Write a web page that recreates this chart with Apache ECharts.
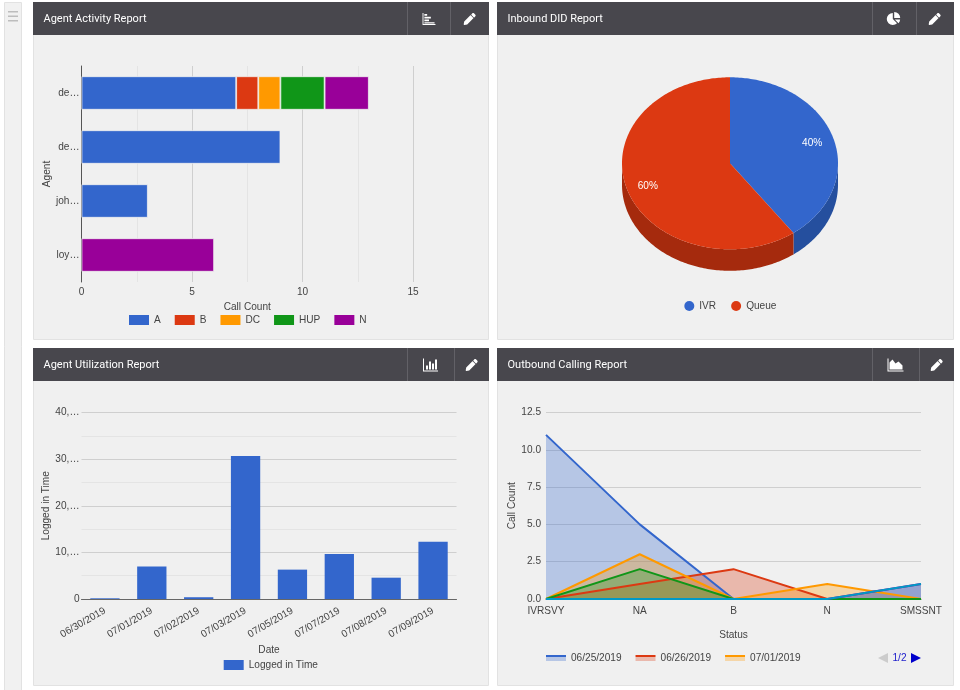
<!DOCTYPE html>
<html>
<head>
<meta charset="utf-8">
<title>Call Center Dashboard</title>
<style>
  html, body { margin: 0; padding: 0; background: #fff; }
  #dash { width: 960px; height: 690px; }
</style>
<script src="https://cdn.jsdelivr.net/npm/echarts@6/dist/echarts.min.js"></script>
</head>
<body>
<div id="dash"></div>
<script>
// Agent Activity Report
const agentLabels = ['de…', 'de…', 'joh…', 'loy…'];
const statusA = [7, 9, 3, null];
const statusB = [1, null, null, null];
const statusDC = [1, null, null, null];
const statusHUP = [2, null, null, null];
const statusN = [2, null, null, 6];

// Inbound DID Report
const didNames = ['IVR', 'Queue'];
const didValues = [2, 3];

// Agent Utilization Report
const utilDates = ['06/30/2019', '07/01/2019', '07/02/2019', '07/03/2019', '07/05/2019', '07/07/2019', '07/08/2019', '07/09/2019'];
const loggedInTime = [150, 6950, 380, 30650, 6300, 9650, 4570, 12300];
const utilTickLabels = ['0', '10,…', '20,…', '30,…', '40,…'];

// Outbound Calling Report
const outboundStatus = ['IVRSVY', 'NA', 'B', 'N', 'SMSSNT'];
const outboundDates = ['06/25/2019', '06/26/2019', '07/01/2019', '07/02/2019', '07/03/2019', '07/05/2019'];
const calls0625 = [11, 5, 0, 0, 0];
const calls0626 = [0, 1, 2, 0, 0];
const calls0701 = [0, 3, 0, 1, 0];
const calls0702 = [0, 2, 0, 0, 0];
const calls0703 = [0, 0, 0, 0, 1];
const calls0705 = [0, 0, 0, 0, 1];
const outboundTicks = ['0.0', '2.5', '5.0', '7.5', '10.0', '12.5'];
const datesPerLegendPage = 3;

const BLUE = '#3366cc', RED = '#dc3912', ORANGE = '#ff9900', GREEN = '#109618', PURPLE = '#990099', TEAL = '#0099c6';
const TEXT = '#444444';
const FONT = '"Liberation Sans", Arial, sans-serif';
const FS = 10.1;
const axisText = { color: TEXT, fontFamily: FONT, fontSize: FS };

// Panel chrome: sidebar, card bodies, title bars
const HEADER = '#48474d', SEP = '#626167', BODY = '#f0f0f0', EDGE = '#e2e2e2';

function panel(x, y, w, h, title, sep1, sep2) {
  const headerH = 33;
  return [
    { type: 'rect', z: -5, shape: { x: x + 0.5, y: y + 0.5, width: w - 1, height: h }, style: { fill: BODY, stroke: EDGE, lineWidth: 1 }, silent: true },
    { type: 'rect', z: -4, shape: { x: x, y: y, width: w, height: headerH }, style: { fill: HEADER }, silent: true },
    { type: 'rect', z: -3, shape: { x: sep1, y: y, width: 1, height: headerH }, style: { fill: SEP }, silent: true },
    { type: 'rect', z: -3, shape: { x: sep2, y: y, width: 1, height: headerH }, style: { fill: SEP }, silent: true },
    { type: 'text', z: -3, x: x + 10.5, y: y + 17, style: { text: title, fill: '#ffffff', font: '400 11px Roboto, sans-serif', verticalAlign: 'middle' }, silent: true }
  ];
}

const chrome = [
  { type: 'rect', z: -5, shape: { x: 4.5, y: 2.5, width: 17, height: 690 }, style: { fill: '#f1f1f1', stroke: '#e2e2e2', lineWidth: 1 }, silent: true },
  { type: 'rect', z: -4, shape: { x: 8, y: 11, width: 10, height: 1.5 }, style: { fill: '#bdbdbd' }, silent: true },
  { type: 'rect', z: -4, shape: { x: 8, y: 15.5, width: 10, height: 1.5 }, style: { fill: '#bdbdbd' }, silent: true },
  { type: 'rect', z: -4, shape: { x: 8, y: 20, width: 10, height: 1.5 }, style: { fill: '#bdbdbd' }, silent: true }
].concat(
  panel(33, 2, 456, 337, 'Agent Activity Report', 407, 450),
  panel(497, 2, 457, 337, 'Inbound DID Report', 872, 916),
  panel(33, 348, 456, 337, 'Agent Utilization Report', 407, 454),
  panel(497, 348, 457, 337, 'Outbound Calling Report', 872, 919)
);

// Toolbar glyphs drawn in each title bar
const PENCIL = 'M497.9 142.1l-46.1 46.1c-4.7 4.7-12.3 4.7-17 0l-111-111c-4.7-4.7-4.7-12.3 0-17l46.1-46.1c18.7-18.7 49.1-18.7 67.9 0l60.1 60.1c18.8 18.7 18.8 49.1 0 67.9zM284.2 99.8L21.6 362.4.4 483.9c-2.9 16.4 11.4 30.6 27.8 27.8l121.5-21.3 262.6-262.6c4.7-4.7 4.7-12.3 0-17l-111-111c-4.8-4.7-12.4-4.7-17.1 0z';
const ICON_HBAR = 'M0 0h1v12h13v1H0zM2 1h3v2H2zM2 4h7v2H2zM2 7h5v2H2zM2 10h11v1.4H2z';
const ICON_VBAR = 'M0 0h1v12h14v1H0zM3 7h2v4H3zM6 3h2v8H6zM9 5h2v6H9zM12 1h2v10h-2z';
const ICON_AREA = 'M0 0h1v12h15v1H0zM2 11V4l3-3 3 4 3-2 4 4v4z';
const ICON_PIE = 'M6 1v6.5l4.6 4.6A6.5 6.5 0 1 1 6 1zM7.5 0A6.5 6.5 0 0 1 14 6.5H7.5zM8.2 8h5.7a6.5 6.5 0 0 1-1.7 4z';
const toolbarGlyphs = [
  [ICON_HBAR, 422, 13, 14, 12], [PENCIL, 463.7, 13, 12, 12],
  [ICON_PIE, 886.5, 12, 14, 13], [PENCIL, 928.7, 13, 12, 12],
  [ICON_VBAR, 423, 358.5, 15, 13], [PENCIL, 465.7, 359, 12, 12],
  [ICON_AREA, 887.5, 358.5, 16, 13], [PENCIL, 930.7, 359, 12, 12]
];

function renderGlyphs() {
  return {
    type: 'group',
    children: toolbarGlyphs.map(g => ({
      type: 'path',
      shape: { pathData: g[0], layout: 'center', x: g[1], y: g[2], width: g[3], height: g[4] },
      style: { fill: '#ffffff' }
    }))
  };
}

// Tilted pie: an elliptical top face with a side wall below its front half
const PIE = { cx: 730, cy: 163.3, rx: 108, ry: 86, depth: 21.5, labelAt: 0.8, labelDrop: 1.5 };
const didTotal = didValues.reduce((a, b) => a + b, 0);
const wallColors = ['#254f9e', '#a52a0d'];
const faceColors = [BLUE, RED];

function piePoint(deg, dy) {
  const a = deg * Math.PI / 180;
  return [PIE.cx + PIE.rx * Math.sin(a), PIE.cy - PIE.ry * Math.cos(a) + (dy || 0)];
}

function renderSlice(sliceIndex) {
  return function (params, api) {
    const value = api.value(0);
    const before = didValues.slice(0, sliceIndex).reduce((a, b) => a + b, 0);
    const start = before / didTotal * 360;
    const end = (before + value) / didTotal * 360;
    const children = [];

    // Only the arc facing the viewer (90deg to 270deg) shows a wall
    const wStart = Math.max(start, 90), wEnd = Math.min(end, 270);
    if (wEnd > wStart) {
      const wall = [];
      for (let d = wStart; d <= wEnd; d += 1) wall.push(piePoint(d, 0));
      wall.push(piePoint(wEnd, 0));
      wall.push(piePoint(wEnd, PIE.depth));
      for (let d = wEnd; d >= wStart; d -= 1) wall.push(piePoint(d, PIE.depth));
      wall.push(piePoint(wStart, PIE.depth));
      children.push({ type: 'polygon', shape: { points: wall }, style: { fill: wallColors[sliceIndex] } });
    }

    const face = [[PIE.cx, PIE.cy]];
    for (let d = start; d <= end; d += 1) face.push(piePoint(d, 0));
    face.push(piePoint(end, 0));
    children.push({ type: 'polygon', shape: { points: face }, style: { fill: faceColors[sliceIndex] } });

    const mid = (start + end) / 2 * Math.PI / 180;
    children.push({
      type: 'text',
      z2: 10,
      x: PIE.cx + PIE.rx * PIE.labelAt * Math.sin(mid),
      y: PIE.cy - PIE.ry * PIE.labelAt * Math.cos(mid) + PIE.labelDrop,
      style: {
        text: Math.round(value / didTotal * 100) + '%',
        fill: '#ffffff',
        font: FS + 'px ' + FONT,
        align: 'center',
        verticalAlign: 'middle'
      }
    });
    return { type: 'group', children: children };
  };
}

function agentBar(name, values, color) {
  return {
    name: name, type: 'bar', stack: 'agent', xAxisIndex: 0, yAxisIndex: 0,
    data: values, barCategoryGap: '38%',
    itemStyle: { color: color, borderColor: '#f0f0f0', borderWidth: 0.8 }
  };
}

function outboundArea(name, values, color) {
  return {
    name: name, type: 'line', xAxisIndex: 2, yAxisIndex: 2,
    data: values, showSymbol: false, symbol: 'none',
    lineStyle: { color: color, width: 2 },
    itemStyle: { color: color },
    areaStyle: { color: color, opacity: 0.3 }
  };
}

// Legend swatch for area lines: a solid top edge over a pale band
function bandSwatch(color) {
  return {
    type: 'linear', x: 0, y: 0, x2: 0, y2: 1,
    colorStops: [
      { offset: 0, color: color }, { offset: 0.28, color: color },
      { offset: 0.28, color: echarts.color.modifyAlpha(color, 0.3) },
      { offset: 1, color: echarts.color.modifyAlpha(color, 0.3) }
    ]
  };
}

const areaColors = [BLUE, RED, ORANGE, GREEN, PURPLE, TEAL];
const areaValues = [calls0625, calls0626, calls0701, calls0702, calls0703, calls0705];

const option = {
  animation: false,
  backgroundColor: '#ffffff',
  graphic: { elements: chrome },
  textStyle: { fontFamily: FONT, fontSize: FS, color: TEXT },
  grid: [
    { left: 81.5, top: 66, width: 331.5, height: 216 },
    { left: 81.5, top: 412.5, width: 375, height: 186.5 },
    { left: 546, top: 412.5, width: 375, height: 186.5 }
  ],
  xAxis: [
    {
      gridIndex: 0, type: 'value', min: 0, max: 15, interval: 5,
      name: 'Call Count', nameLocation: 'middle', nameGap: 20, nameTextStyle: axisText,
      axisLine: { show: false }, axisTick: { show: false },
      axisLabel: Object.assign({ margin: 5 }, axisText),
      splitLine: { show: true, lineStyle: { color: '#cfcfcf', width: 1 } },
      minorTick: { show: false, splitNumber: 2 },
      minorSplitLine: { show: true, lineStyle: { color: '#e4e4e4', width: 1 } }
    },
    {
      gridIndex: 1, type: 'category', data: utilDates,
      name: 'Date', nameLocation: 'middle', nameGap: 46, nameTextStyle: axisText,
      axisLine: { show: true, lineStyle: { color: '#666666', width: 1 } }, axisTick: { show: false },
      axisLabel: Object.assign({ rotate: 30, margin: 11, interval: 0 }, axisText)
    },
    {
      gridIndex: 2, type: 'category', data: outboundStatus, boundaryGap: false,
      name: 'Status', nameLocation: 'middle', nameGap: 31, nameTextStyle: axisText,
      axisLine: { show: true, lineStyle: { color: '#666666', width: 1 } }, axisTick: { show: false },
      axisLabel: Object.assign({ margin: 7, interval: 0, showMinLabel: true, showMaxLabel: true }, axisText)
    }
  ],
  yAxis: [
    {
      gridIndex: 0, type: 'category', data: agentLabels, inverse: true,
      name: 'Agent', nameLocation: 'middle', nameGap: 26, nameTextStyle: axisText,
      axisLine: { show: true, lineStyle: { color: '#555555', width: 1 } }, axisTick: { show: false },
      axisLabel: Object.assign({ margin: 2, interval: 0 }, axisText)
    },
    {
      gridIndex: 1, type: 'value', min: 0, max: 40000, interval: 10000,
      name: 'Logged in Time', nameLocation: 'middle', nameGap: 26, nameTextStyle: axisText,
      axisLine: { show: false }, axisTick: { show: false },
      axisLabel: Object.assign({ margin: 2, formatter: (v, i) => utilTickLabels[i] }, axisText),
      splitLine: { show: true, lineStyle: { color: '#cfcfcf', width: 1 } },
      minorTick: { show: false, splitNumber: 2 },
      minorSplitLine: { show: true, lineStyle: { color: '#e4e4e4', width: 1 } }
    },
    {
      gridIndex: 2, type: 'value', min: 0, max: 12.5, interval: 2.5,
      name: 'Call Count', nameLocation: 'middle', nameGap: 23, nameTextStyle: axisText,
      axisLine: { show: false }, axisTick: { show: false },
      axisLabel: Object.assign({ margin: 5, formatter: (v, i) => outboundTicks[i] }, axisText),
      splitLine: { show: true, lineStyle: { color: '#cfcfcf', width: 1 } }
    }
  ],
  legend: [
    {
      data: ['A', 'B', 'DC', 'HUP', 'N'], left: 129, top: 315,
      itemWidth: 20, itemHeight: 10, itemGap: 14, icon: 'rect', selectedMode: false,
      itemStyle: { borderWidth: 0 },
      textStyle: axisText, padding: 0
    },
    {
      data: didNames.map(n => ({ name: n, icon: 'circle' })), left: 684.3, top: 301,
      itemWidth: 10, itemHeight: 10, itemGap: 15, selectedMode: false,
      textStyle: axisText, padding: 0
    },
    {
      data: ['Logged in Time'], left: 223.7, top: 660,
      itemWidth: 20, itemHeight: 10, icon: 'rect', selectedMode: false,
      textStyle: axisText, padding: 0
    },
    {
      type: 'scroll', orient: 'horizontal',
      data: outboundDates.map((n, i) => ({ name: n, icon: 'rect', itemStyle: { color: bandSwatch(areaColors[i]), opacity: 1 } })),
      left: 546, top: 653, width: 375, padding: 0,
      itemWidth: 20, itemHeight: 6, itemGap: 14, selectedMode: false,
      textStyle: axisText,
      pageButtonGap: 72, pageButtonItemGap: 0,
      pageIcons: { horizontal: ['path://M10 0L10 10L0 5Z', 'path://M0 0L10 5L0 10Z'] },
      pageFormatter: ({ current }) => current + '/' + Math.ceil(outboundDates.length / datesPerLegendPage),
      pageIconColor: '#0000cc', pageIconInactiveColor: '#cccccc', pageIconSize: 10,
      pageTextStyle: { color: '#2222cc', fontFamily: FONT, fontSize: FS }
    }
  ],
  series: [
    agentBar('A', statusA, BLUE),
    agentBar('B', statusB, RED),
    agentBar('DC', statusDC, ORANGE),
    agentBar('HUP', statusHUP, GREEN),
    agentBar('N', statusN, PURPLE),
    {
      name: 'Logged in Time', type: 'bar', xAxisIndex: 1, yAxisIndex: 1,
      data: loggedInTime, barWidth: '62.5%', itemStyle: { color: BLUE }
    },
    {
      name: didNames[0], type: 'custom', coordinateSystem: 'none',
      data: [[didValues[0]]], renderItem: renderSlice(0), itemStyle: { color: BLUE }, silent: true
    },
    {
      name: didNames[1], type: 'custom', coordinateSystem: 'none',
      data: [[didValues[1]]], renderItem: renderSlice(1), itemStyle: { color: RED }, silent: true
    },
    {
      type: 'custom', coordinateSystem: 'none', name: 'toolbar', silent: true,
      data: [[0]], renderItem: renderGlyphs
    }
  ].concat(outboundDates.map((n, i) => outboundArea(n, areaValues[i], areaColors[i])))
};

const chart = echarts.init(document.getElementById('dash'), null, { renderer: 'canvas', width: 960, height: 690 });
chart.setOption(option);
</script>
</body>
</html>
